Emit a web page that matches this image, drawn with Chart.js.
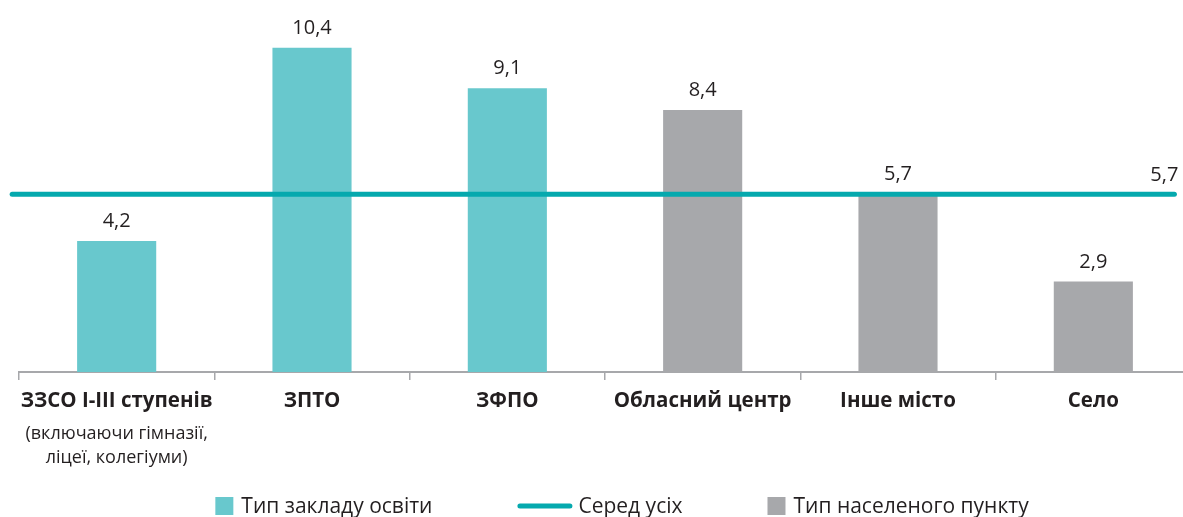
<!DOCTYPE html>
<html lang="uk">
<head>
<meta charset="utf-8">
<title>Chart</title>
<script src="https://cdn.jsdelivr.net/npm/chart.js@4.4.1/dist/chart.umd.min.js"></script>
<style>
  html, body { margin: 0; padding: 0; background: #fff; overflow: hidden; }
  #wrap { position: relative; width: 1191px; height: 517px; }
</style>
</head>
<body>
<div id="wrap"><canvas id="chart"></canvas></div>
<script>
// ============ Data ============
const categoryTitles = ['ЗЗСО I-III ступенів', 'ЗПТО', 'ЗФПО', 'Обласний центр', 'Інше місто', 'Село'];
const categoryNotes = [['(включаючи гімназії,', 'ліцеї, колегіуми)'], [], [], [], [], []];
const institutionValues = [4.2, 10.4, 9.1, null, null, null];
const settlementValues = [null, null, null, 8.4, 5.7, 2.9];
const overallValue = 5.7;
const overallSpan = [-0.035, 5.915]; // line extent, in category units
const legendLabels = ['Тип закладу освіти', 'Серед усіх', 'Тип населеного пункту'];

const COLORS = {
  institution: '#68c8cd',
  settlement: '#a7a8ab',
  overall: '#05a9ae',
  text: '#231f20',
  axis: '#a7a8ab',
};
const FONT = '"Open Sans", "Noto Sans", sans-serif';

const fmt = v => String(v).replace('.', ',');

// ============ Plugins ============
const valueLabels = {
  id: 'valueLabels',
  afterDatasetsDraw(chart) {
    const ctx = chart.ctx;
    ctx.save();
    ctx.fillStyle = COLORS.text;
    ctx.font = `20px ${FONT}`;
    ctx.textBaseline = 'alphabetic';
    chart.data.datasets.forEach((ds, di) => {
      const meta = chart.getDatasetMeta(di);
      if (ds.type === 'line') {
        const last = meta.data[meta.data.length - 1];
        ctx.textAlign = 'right';
        ctx.fillText(fmt(ds.data[ds.data.length - 1].y), last.x + 4, last.y - 13);
        return;
      }
      ctx.textAlign = 'center';
      meta.data.forEach((el, i) => {
        const v = ds.data[i];
        if (v == null) return;
        ctx.fillText(fmt(v), el.x, el.y - 14);
      });
    });
    ctx.restore();
  }
};

const categoryLabels = {
  id: 'categoryLabels',
  afterDraw(chart) {
    const ctx = chart.ctx;
    const xs = chart.scales.x;
    const base = chart.chartArea.bottom;
    ctx.save();
    ctx.fillStyle = COLORS.text;
    ctx.textAlign = 'center';
    ctx.textBaseline = 'middle';
    categoryTitles.forEach((t, i) => {
      const x = xs.getPixelForValue(i);
      ctx.font = `bold 20.5px ${FONT}`;
      ctx.fillText(t, x, base + 29);
      ctx.font = `18px ${FONT}`;
      categoryNotes[i].forEach((n, j) => ctx.fillText(n, x, base + 62 + j * 24));
    });
    ctx.restore();
  }
};

const bottomLegend = {
  id: 'bottomLegend',
  afterDraw(chart) {
    const ctx = chart.ctx;
    const cy = 506;
    const centerX = 622;
    const spacing = 85;
    ctx.save();
    ctx.font = `21px ${FONT}`;
    const items = chart.data.datasets.map(ds => {
      const isLine = ds.type === 'line';
      const markW = isLine ? 55 : 18;
      const gap = isLine ? 6 : 8;
      const textW = ctx.measureText(ds.label).width;
      return { ds, isLine, markW, gap, textW, w: markW + gap + textW };
    });
    const total = items.reduce((s, it) => s + it.w, 0) + spacing * (items.length - 1);
    let x = centerX - total / 2;
    items.forEach(it => {
      if (it.isLine) {
        ctx.strokeStyle = it.ds.borderColor;
        ctx.lineWidth = 5;
        ctx.lineCap = 'round';
        ctx.beginPath();
        ctx.moveTo(x + 2.5, cy);
        ctx.lineTo(x + it.markW - 2.5, cy);
        ctx.stroke();
      } else {
        ctx.fillStyle = it.ds.backgroundColor;
        ctx.fillRect(x, cy - 9, 18, 18);
      }
      ctx.fillStyle = COLORS.text;
      ctx.textAlign = 'left';
      ctx.textBaseline = 'middle';
      ctx.fillText(it.ds.label, x + it.markW + it.gap, cy + 1);
      x += it.w + spacing;
    });
    ctx.restore();
  }
};

// ============ Chart ============
Chart.defaults.font.family = FONT;
Chart.defaults.color = COLORS.text;

new Chart(document.getElementById('chart').getContext('2d'), {
  type: 'bar',
  data: {
    labels: categoryTitles,
    datasets: [
      {
        label: legendLabels[0],
        data: institutionValues,
        backgroundColor: COLORS.institution,
        grouped: false,
        categoryPercentage: 1,
        barPercentage: 0.405,
        order: 2,
      },
      {
        type: 'line',
        label: legendLabels[1],
        data: overallSpan.map(x => ({ x, y: overallValue })),
        xAxisID: 'xLine',
        borderColor: COLORS.overall,
        backgroundColor: COLORS.overall,
        borderWidth: 5,
        borderCapStyle: 'round',
        pointRadius: 0,
        clip: false,
        order: 0,
      },
      {
        label: legendLabels[2],
        data: settlementValues,
        backgroundColor: COLORS.settlement,
        grouped: false,
        categoryPercentage: 1,
        barPercentage: 0.405,
        order: 1,
      },
    ],
  },
  options: {
    responsive: true,
    maintainAspectRatio: false,
    animation: false,
    layout: { padding: { left: 19, right: 0, top: 29, bottom: 0 } },
    plugins: { legend: { display: false }, tooltip: { enabled: false } },
    scales: {
      x: {
        grid: { offset: true, drawOnChartArea: false, drawTicks: true, tickLength: 8, color: COLORS.axis, lineWidth: 1.5 },
        border: { display: true, color: COLORS.axis, width: 2 },
        ticks: { display: false },
        afterFit(scale) { scale.height = 145; },
      },
      xLine: { type: 'linear', min: 0, max: 6, offset: false, display: false },
      y: { min: 0, max: 11, display: false },
    },
  },
  plugins: [valueLabels, categoryLabels, bottomLegend],
});
</script>
</body>
</html>
